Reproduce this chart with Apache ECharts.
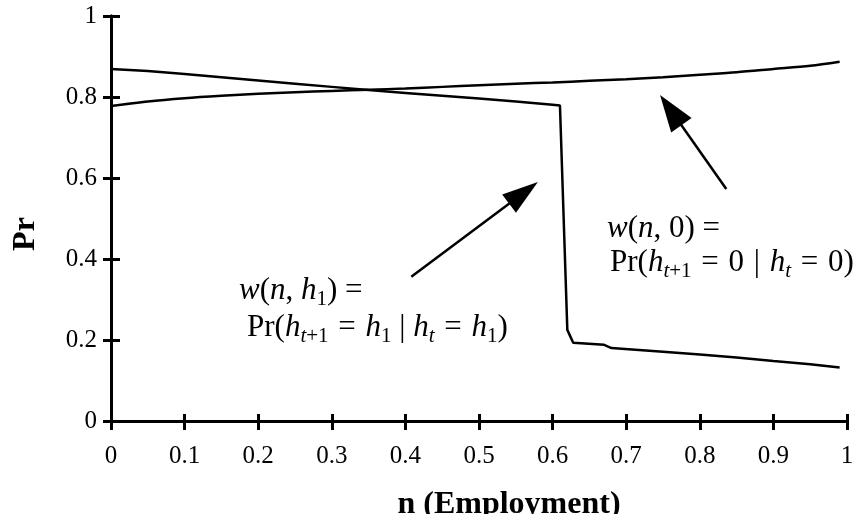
<!DOCTYPE html>
<html>
<head>
<meta charset="utf-8">
<script src="https://cdn.jsdelivr.net/npm/echarts@6/dist/echarts.min.js"></script>
<style>
html,body{margin:0;padding:0;background:#fff;}
#chart{width:857px;height:514px;}
</style>
</head>
<body>
<div id="chart"></div>
<script>
// ---- data ----
var xTicks = [0, 0.1, 0.2, 0.3, 0.4, 0.5, 0.6, 0.7, 0.8, 0.9, 1];
var yTicks = [0, 0.2, 0.4, 0.6, 0.8, 1];

// w(n,0) = Pr(h_{t+1}=0 | h_t=0)
var nW0 = [0, 0.05, 0.1, 0.15, 0.2, 0.25, 0.3, 0.35, 0.4, 0.45, 0.5, 0.55, 0.6, 0.65, 0.7, 0.75, 0.8, 0.85, 0.9, 0.95, 0.99];
var w0  = [0.778, 0.789, 0.797, 0.803, 0.808, 0.812, 0.815, 0.818, 0.821, 0.825, 0.829, 0.833, 0.836, 0.840, 0.844, 0.849, 0.855, 0.861, 0.869, 0.877, 0.887];

// w(n,h1) = Pr(h_{t+1}=h1 | h_t=h1)
var nW1 = [0, 0.05, 0.1, 0.15, 0.2, 0.25, 0.3, 0.35, 0.4, 0.45, 0.5, 0.55, 0.6, 0.61, 0.62, 0.628, 0.67, 0.68, 0.75, 0.8, 0.85, 0.9, 0.95, 0.99];
var w1  = [0.869, 0.864, 0.857, 0.849, 0.841, 0.833, 0.825, 0.817, 0.810, 0.803, 0.796, 0.789, 0.781, 0.779, 0.225, 0.193, 0.188, 0.180, 0.171, 0.164, 0.157, 0.148, 0.140, 0.132];

// annotation arrows (data coordinates): [tail, tip]
var arrowA = [[0.408, 0.356], [0.580, 0.590]];
var arrowB = [[0.836, 0.573], [0.746, 0.805]];

function pairs(xs, ys) { return xs.map(function (x, i) { return [x, ys[i]]; }); }

var FONT = '"Liberation Serif", "Times New Roman", serif';
var chart = echarts.init(document.getElementById('chart'), null, {renderer: 'canvas'});

var axisLine = {lineStyle: {color: '#000', width: 3}};
function xAx(inside, len, show) {
  return {
    type: 'value', min: xTicks[0], max: xTicks[xTicks.length - 1], interval: 0.1,
    position: 'bottom', axisLine: axisLine,
    axisTick: {show: true, inside: inside, length: len, lineStyle: {color: '#000', width: 3}},
    axisLabel: {show: show, margin: 23, color: '#000', fontFamily: FONT, fontSize: 25,
      formatter: function (v) { return String(+v.toFixed(1)); }},
    splitLine: {show: false}
  };
}
function yAx(inside, len, show) {
  return {
    type: 'value', min: yTicks[0], max: yTicks[yTicks.length - 1], interval: 0.2,
    position: 'left', axisLine: axisLine,
    axisTick: {show: true, inside: inside, length: len, lineStyle: {color: '#000', width: 3}},
    axisLabel: {show: show, margin: 14, color: '#000', fontFamily: FONT, fontSize: 25,
      formatter: function (v) { return String(+v.toFixed(1)); }},
    splitLine: {show: false}
  };
}

var lineStyle = {color: '#000', width: 2.5};
chart.setOption({
  animation: false,
  backgroundColor: '#fff',
  grid: {left: 111, right: 10, top: 16, bottom: 93},
  xAxis: [xAx(false, 9, true), xAx(true, 7, false)],
  yAxis: [yAx(false, 8, true), yAx(true, 9, false)],
  series: [
    {type: 'line', data: pairs(nW0, w0), smooth: 0.3, showSymbol: false, lineStyle: lineStyle, itemStyle: {color: '#000'}},
    {type: 'line', data: pairs(nW1, w1), smooth: false, showSymbol: false, lineStyle: lineStyle, itemStyle: {color: '#000'}}
  ]
});

function arrowGraphics(ar, headLen, headW) {
  var t = chart.convertToPixel({gridIndex: 0}, ar[0]);
  var p = chart.convertToPixel({gridIndex: 0}, ar[1]);
  var dx = p[0] - t[0], dy = p[1] - t[1];
  var L = Math.sqrt(dx * dx + dy * dy);
  var ux = dx / L, uy = dy / L;
  var bx = p[0] - ux * headLen, by = p[1] - uy * headLen;
  var nx = -uy, ny = ux;
  return [
    {type: 'line', shape: {x1: t[0], y1: t[1], x2: bx + ux * 2, y2: by + uy * 2}, style: {stroke: '#000', lineWidth: 2.5}},
    {type: 'polygon', shape: {points: [[p[0], p[1]], [bx + nx * headW / 2, by + ny * headW / 2], [bx - nx * headW / 2, by - ny * headW / 2]]}, style: {fill: '#000'}}
  ];
}

var rich = {
  r: {fontFamily: FONT, fontSize: 31, lineHeight: 36, color: '#000'},
  o: {fontFamily: FONT, fontSize: 31, lineHeight: 36, padding: [0, 2, 0, 2], color: '#000'},
  i: {fontFamily: FONT, fontSize: 31, lineHeight: 36, fontStyle: 'italic', color: '#000'},
  s: {fontFamily: FONT, fontSize: 21, lineHeight: 36, padding: [17, 0, 0, 0], color: '#000'},
  si: {fontFamily: FONT, fontSize: 21, lineHeight: 36, padding: [17, 0, 0, 0], fontStyle: 'italic', color: '#000'}
};
function txt(x, baseline, text) {
  return {type: 'text', x: x, y: baseline - 10.5, style: {text: text, rich: rich, align: 'left', verticalAlign: 'middle'}};
}

var g = [];
g = g.concat(arrowGraphics(arrowA, 36, 23));
g = g.concat(arrowGraphics(arrowB, 37, 25));
g.push(txt(239, 301, '{i|w}{r|(}{i|n}{r|, }{i|h}{s|1}{r|) =}'));
g.push(txt(247, 338, '{r|Pr(}{i|h}{si|t}{s|+1}{o| = }{i|h}{s|1}{r| | }{i|h}{si|t}{o| = }{i|h}{s|1}{r|)}'));
g.push(txt(607, 239, '{i|w}{r|(}{i|n}{r|, 0) =}'));
g.push(txt(610, 273, '{r|Pr(}{i|h}{si|t}{s|+1}{o| = }{r|0}{o| | }{i|h}{si|t}{o| = }{r|0)}'));
// axis titles
g.push({type: 'text', x: 26, y: 234, rotation: Math.PI / 2,
  style: {text: 'Pr', fontFamily: FONT, fontSize: 32, fontWeight: 'bold', fill: '#000', align: 'center', verticalAlign: 'middle'}});
g.push({type: 'text', x: 509, y: 505,
  style: {text: 'n (Employment)', fontFamily: FONT, fontSize: 32, fontWeight: 'bold', fill: '#000', align: 'center', verticalAlign: 'middle'}});

chart.setOption({graphic: g});
</script>
</body>
</html>
